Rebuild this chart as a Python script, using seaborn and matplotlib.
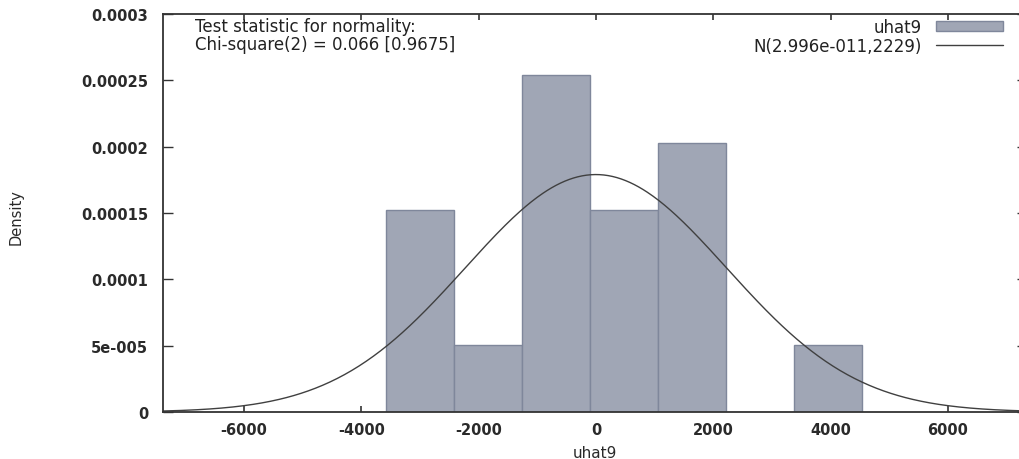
import numpy as np
import pandas as pd
import matplotlib
matplotlib.use("Agg")
import matplotlib.pyplot as plt
import seaborn as sns

# ---- data ----
bin_edges = [-3579, -2420, -1261, -102, 1057, 2216, 3375, 4534]
bin_counts = [3, 1, 5, 3, 4, 0, 1]
normal_mean = 2.996e-11
normal_sd = 2229.0
x_ticks = [-6000, -4000, -2000, 0, 2000, 4000, 6000]
x_tick_labels = ["-6000", "-4000", "-2000", "0", "2000", "4000", "6000"]
y_ticks = [0, 0.00005, 0.0001, 0.00015, 0.0002, 0.00025, 0.0003]
y_tick_labels = ["0", "5e-005", "0.0001", "0.00015", "0.0002", "0.00025", "0.0003"]
series_name = "uhat9"
normal_label = "N(2.996e-011,2229)"
test_text = "Test statistic for normality:\nChi-square(2) = 0.066 [0.9675]"

sns.set_style("white")
plt.rcParams["font.family"] = ["DejaVu Sans"]

W, H = 1020, 460
fig = plt.figure(figsize=(W / 100, H / 100), dpi=100)
left_px, right_px, top_px, bottom_px = 163.3, 1027, 15, 413
ax = fig.add_axes([left_px / W, (H - bottom_px) / H,
                   (right_px - left_px) / W, (bottom_px - top_px) / H])

edges = [float(e) for e in bin_edges]
centers = [(a + b) / 2 for a, b in zip(edges[:-1], edges[1:])]
df = pd.DataFrame({"x": centers, "w": [float(c) for c in bin_counts]})

sns.histplot(data=df, x="x", weights="w", bins=edges, stat="density",
             color="#a0a6b5", edgecolor="#7f879b", linewidth=1.0, alpha=1.0,
             ax=ax, label=series_name)

xs = np.linspace(-7400, 7400, 600)
pdf = np.exp(-0.5 * ((xs - normal_mean) / normal_sd) ** 2) / (normal_sd * np.sqrt(2 * np.pi))
sns.lineplot(x=xs, y=pdf, color="#404040", linewidth=1.0, ax=ax, label=normal_label)

ax.set_xlim(-7375, 7350)
ax.set_ylim(0, 0.0003)
ax.set_xticks(x_ticks)
ax.set_xticklabels(x_tick_labels)
ax.set_yticks(y_ticks)
ax.set_yticklabels(y_tick_labels)

tick_color = "#333333"
ax.tick_params(axis="x", direction="in", length=4, width=1.2, color=tick_color,
               top=True, bottom=True, pad=7, labelsize=10.5, labelcolor="#2a2a2a")
ax.tick_params(axis="y", direction="in", length=7.5, width=1.0, color=tick_color,
               left=True, right=True, pad=11, labelsize=10.5, labelcolor="#2a2a2a")
for lab in ax.get_xticklabels() + ax.get_yticklabels():
    lab.set_fontweight("bold")

for s in ax.spines.values():
    s.set_visible(True)
    s.set_color(tick_color)
    s.set_linewidth(1.3)

ax.set_xlabel(series_name, fontsize=11, color="#2a2a2a", labelpad=6)
ax.set_ylabel("")
fig.text(16 / W, 1 - 217 / H, "Density", rotation=90, va="center", ha="center",
         fontsize=10.5, color="#2a2a2a")

ax.text((195 - left_px) / (right_px - left_px), (bottom_px - 18) / (bottom_px - top_px),
        test_text, transform=ax.transAxes, ha="left", va="top",
        fontsize=12, color="#222222", linespacing=1.0)

handles, labels = ax.get_legend_handles_labels()
order = [labels.index(series_name), labels.index(normal_label)]
leg = ax.legend([handles[i] for i in order], [labels[i] for i in order],
                loc="upper right", frameon=False, markerfirst=False,
                bbox_to_anchor=((1003 - left_px) / (right_px - left_px),
                                (bottom_px - 19) / (bottom_px - top_px)),
                borderpad=0, borderaxespad=0, handlelength=4.0, handleheight=0.55,
                handletextpad=0.9, labelspacing=0.05, fontsize=12)
for t in leg.get_texts():
    t.set_color("#222222")

fig.savefig("out.png", dpi=100)
